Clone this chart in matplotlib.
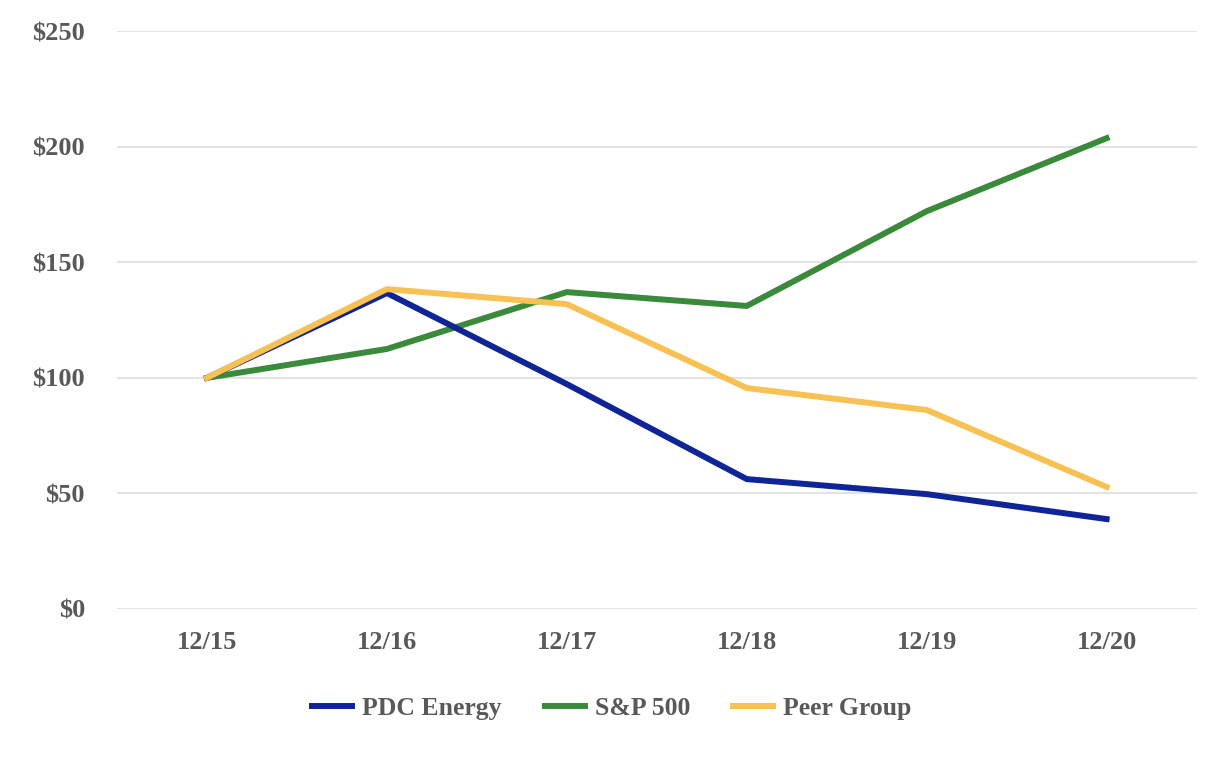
import matplotlib.pyplot as plt
from matplotlib import font_manager
import matplotlib.patheffects as pe

periods = ["12/15", "12/16", "12/17", "12/18", "12/19", "12/20"]
pdc_energy = [100, 136.7, 97.3, 56.2, 49.7, 38.9]
sp500 = [100, 112.5, 137.1, 131.1, 172.1, 203.7]
peer_group = [100, 138.4, 131.9, 95.6, 86.1, 52.8]
y_ticks = [0, 50, 100, 150, 200, 250]

text_color = "#595959"

# look for a bold serif face; fake it with a stroke if there is none
bold_files = [f.fname for f in font_manager.fontManager.ttflist
              if f.name == "Liberation Serif" and f.weight in ("bold", 700) and f.style == "normal"]
effects = []
if bold_files:
    font_file = bold_files[0]
else:
    font_file = font_manager.findfont(font_manager.FontProperties(family="Liberation Serif"))
    effects = [pe.withStroke(linewidth=0.9, foreground=text_color)]


def fp(size):
    return font_manager.FontProperties(fname=font_file, size=size)


fig = plt.figure(figsize=(12.26, 7.6), dpi=100)
ax = fig.add_axes([0.0954, 0.1987, 0.8806, 0.7603])

x = range(len(periods))
ax.plot(x, pdc_energy, color="#0f2496", lw=4.3, label="PDC Energy", zorder=3)
ax.plot(x, sp500, color="#3a8a3c", lw=4.3, label="S&P 500", zorder=2)
ax.plot(x, peer_group, color="#f8c153", lw=4.3, label="Peer Group", zorder=4)

ax.set_xlim(-0.5, len(periods) - 0.5)
ax.set_ylim(0, 250)
ax.set_yticks(y_ticks)
ax.set_yticklabels([f"${v}" for v in y_ticks])
ax.set_xticks(list(x))
ax.set_xticklabels(periods)
ax.grid(axis="y", color="#e3e3e3", lw=1.5)
ax.set_axisbelow(True)
for s in ax.spines.values():
    s.set_visible(False)
ax.tick_params(length=0, labelcolor=text_color)
ax.tick_params(axis="y", pad=23)
ax.tick_params(axis="x", pad=16)
for lbl in ax.get_xticklabels() + ax.get_yticklabels():
    lbl.set_fontproperties(fp(19))
    lbl.set_path_effects(effects)

leg = fig.legend(loc="center", bbox_to_anchor=(0.499, 0.068), ncol=3, frameon=False,
                 prop=fp(18.5), handlelength=1.56,
                 columnspacing=1.67, handletextpad=0.39)
for t in leg.get_texts():
    t.set_color(text_color)
    t.set_path_effects(effects)

fig.savefig("out.png", dpi=100)
